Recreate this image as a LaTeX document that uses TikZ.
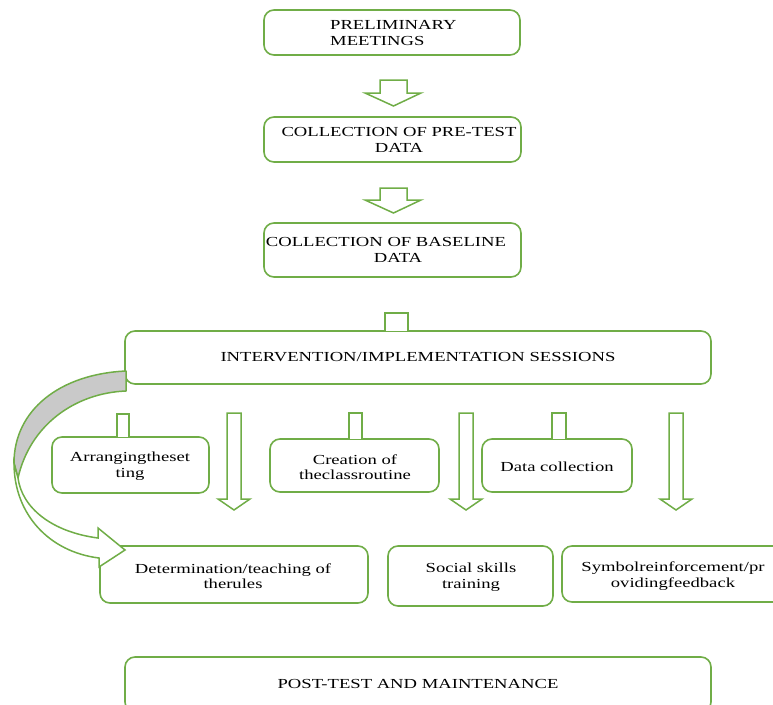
\documentclass[tikz,border=0pt]{standalone}
\usepackage{fontspec}
\setmainfont[FakeStretch=1.35]{Liberation Serif}
\definecolor{gr}{HTML}{70AD47}
\definecolor{shade}{HTML}{C9C9C9}
\tikzset{
  box/.style={draw=gr, line width=1.6pt, rounded corners=10pt, fill=white, inner sep=0pt, outer sep=0pt},
  txt/.style={inner sep=0pt, align=center, font=\fontsize{13.8}{15.5}\selectfont},
  barrow/.style={draw=gr, line width=1.5pt, fill=white, line join=miter},
}
\begin{document}
\begin{tikzpicture}[x=1pt,y=-1pt]
\useasboundingbox (0,0) rectangle (773,704);
\clip (0,0) rectangle (773,704);
% boxes
\node[box, minimum width=256pt, minimum height=45pt] (b1) at (392,32.5) {};
\node[box, minimum width=257pt, minimum height=45pt] (b2) at (392.5,139.5) {};
\node[box, minimum width=257pt, minimum height=54pt] (b3) at (392.5,250) {};
\node[box, minimum width=586pt, minimum height=53pt] (b4) at (418,357.5) {};
\node[box, minimum width=157pt, minimum height=56pt] (b5) at (130.5,465) {};
\node[box, minimum width=169pt, minimum height=53pt] (b6) at (354.5,465.5) {};
\node[box, minimum width=150pt, minimum height=53pt] (b7) at (557,465.5) {};
\node[box, minimum width=268pt, minimum height=57pt] (b8) at (234,574.5) {};
\node[box, minimum width=165pt, minimum height=60pt] (b9) at (470.5,576) {};
\node[box, minimum width=223pt, minimum height=56pt] (b10) at (673.5,574) {};
\node[box, minimum width=586pt, minimum height=55pt] (b11) at (418,684.5) {};
% texts
\node[txt, anchor=west, align=left] (t1) at (330,33) {PRELIMINARY\\MEETINGS};
\node[txt] (t2) at (399,140) {COLLECTION OF PRE-TEST\\DATA};
\node[txt] (t3) at (398,250) {COLLECTION OF BASELINE\hspace*{24pt}\\DATA};
\node[txt] (t4) at (418,357) {INTERVENTION/IMPLEMENTATION SESSIONS};
\node[txt] (t5) at (130,466) {Arrangingtheset\\ting};
\node[txt] (t6) at (355,467) {Creation of\\theclassroutine};
\node[txt] (t7) at (557,467) {Data collection};
\node[txt] (t8) at (233,576) {Determination/teaching of\\therules};
\node[txt] (t9) at (471,577) {Social skills\\training};
\node[txt] (t10) at (673,576) {Symbolreinforcement/pr\\ovidingfeedback};
\node[txt] (t11) at (418,684) {POST-TEST AND MAINTENANCE};
% block arrows between top boxes
\draw[barrow] (380,80) -- (407,80) -- (407,93) -- (421,93) -- (393.5,106) -- (365,93) -- (380,93) -- cycle;
\draw[barrow] (380,188) -- (407,188) -- (407,200) -- (421,200) -- (393.5,213) -- (365,200) -- (380,200) -- cycle;
% stem into intervention box
\draw[barrow] (385,331) -- (385,313) -- (408,313) -- (408,331);
% short stems onto sub boxes
\draw[barrow] (117,437) -- (117,414) -- (129,414) -- (129,437);
\draw[barrow] (349,439) -- (349,413) -- (362,413) -- (362,439);
\draw[barrow] (552,439) -- (552,413) -- (566,413) -- (566,439);
% long down arrows
\foreach \c in {234,466,676}{
  \draw[barrow] (\c-7,413) -- (\c+7,413) -- (\c+7,499) -- (\c+16,499) -- (\c,510) -- (\c-16,499) -- (\c-7,499) -- cycle;
}
% curved arrow
\draw[draw=gr, line width=1.5pt, fill=shade, line join=round]
  (126,371) .. controls (60,374) and (14,410) .. (14,463)
  -- (18,478) .. controls (30,425) and (75,393) .. (126,391) -- cycle;
\draw[draw=gr, line width=1.5pt, fill=white, line join=miter]
  (14,463) .. controls (14,515) and (50,552) .. (99,558)
  -- (99,567) -- (125,550) -- (98,528) -- (98,538)
  .. controls (52,532) and (22,508) .. (18,478) -- cycle;
\end{tikzpicture}
\end{document}
